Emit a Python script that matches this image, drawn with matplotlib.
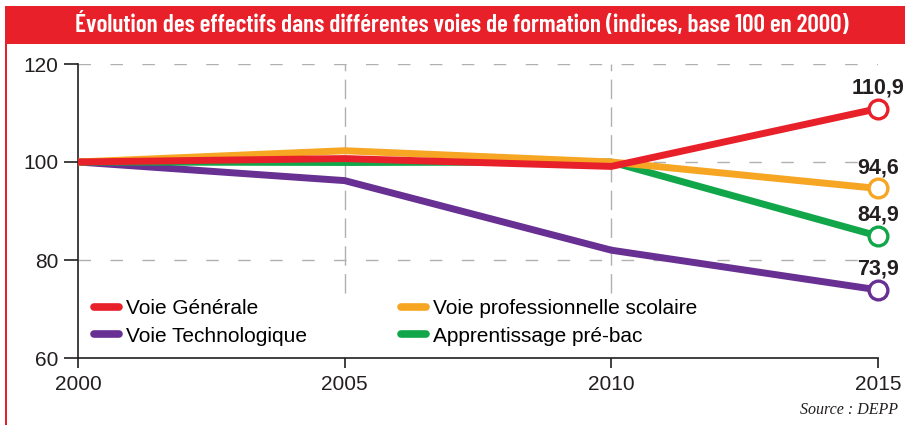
import matplotlib
matplotlib.use("Agg")
import matplotlib.pyplot as plt
from matplotlib.patches import Rectangle
from matplotlib.lines import Line2D
import matplotlib.font_manager as fm

plt.rcParams['lines.scale_dashes'] = False

years = [2000, 2005, 2010, 2015]
generale = [100, 100.7, 99.1, 110.9]
professionnelle = [100, 102.3, 100.0, 94.6]
apprentissage = [100, 99.9, 100.0, 84.9]
technologique = [100, 96.2, 82.0, 73.9]
end_labels = ["110,9", "94,6", "84,9", "73,9"]

series = [
    ("Voie Générale", generale, "#E8202A"),
    ("Voie professionnelle scolaire", professionnelle, "#F6A623"),
    ("Apprentissage pré-bac", apprentissage, "#12A64A"),
    ("Voie Technologique", technologique, "#683092"),
]
yticks = [60, 80, 100, 120]
title = "Évolution des effectifs dans différentes voies de formation (indices, base 100 en 2000)"
source = "Source : DEPP"

names = {f.name for f in fm.fontManager.ttflist}
if "Barlow Condensed" in names:
    title_family, title_size = "Barlow Condensed", 18.2
else:
    title_family, title_size = "Liberation Sans", 12.5
sans = "Liberation Sans"

W, H = 912, 425
fig = plt.figure(figsize=(W / 100, H / 100), dpi=100)

# title bar and frame
fig.patches.append(Rectangle((5 / W, 1 - 44 / H), 900 / W, 38 / H, transform=fig.transFigure,
                             facecolor="#E8202A", edgecolor="none", zorder=0))
fig.patches.append(Rectangle((5 / W, 0), 2 / W, 1 - 6 / H, transform=fig.transFigure,
                             facecolor="#E8202A", edgecolor="none", zorder=0))
fig.text(462 / W, 1 - 25 / H, title, color="white", fontsize=title_size, fontweight=600,
         family=title_family, ha="center", va="center")

ax = fig.add_axes([78 / W, 1 - 358 / H, 800 / W, 294 / H])
ax.set_xlim(2000, 2015)
ax.set_ylim(60, 120)

for y in yticks[1:]:
    ax.axhline(y, color="#b0b0b0", lw=1, dashes=(9, 14), zorder=1)
for x in years[1:-1]:
    ax.axvline(x, ymin=0.22, ymax=1, color="#b0b0b0", lw=1, dashes=(14, 6), zorder=1)

order = [3, 2, 1, 0]
handles = {}
for i in order:
    name, vals, col = series[i]
    ax.plot(years, vals, color=col, lw=5, solid_capstyle="round", zorder=3 + (3 - i))
    ax.plot(years[-1], vals[-1], marker="o", markersize=13.5, markerfacecolor="white",
            markeredgecolor=col, markeredgewidth=2.4, zorder=10, clip_on=False)
    handles[i] = Line2D([0], [0], color=col, lw=5.5, solid_capstyle="round")

for i in range(4):
    name, vals, col = series[i]
    ax.annotate(end_labels[i], (years[-1], vals[-1]), xytext=(0, 7.5), textcoords="offset points",
                ha="center", va="bottom", fontsize=15.5, fontweight="bold", family=sans,
                color="#231f20", zorder=11)

leg_order = [0, 3, 1, 2]
leg = ax.legend([handles[i] for i in leg_order], [series[i][0] for i in leg_order],
                ncol=2, loc="upper left", bbox_to_anchor=(0.015, 0.215),
                frameon=True, facecolor="white", edgecolor="none", framealpha=1,
                prop={"family": sans, "size": 15}, handlelength=1.2, handletextpad=0.35,
                columnspacing=4.5, labelspacing=0.42, borderpad=0.2, borderaxespad=0)
leg.set_zorder(2)

ax.spines["top"].set_visible(False)
ax.spines["right"].set_visible(False)
for s in ["left", "bottom"]:
    ax.spines[s].set_color("#231f20")
    ax.spines[s].set_linewidth(1.2)
ax.set_xticks(years)
ax.set_xticklabels([str(y) for y in years])
ax.set_yticks(yticks)
ax.tick_params(axis="y", length=10, width=1.2, pad=4, labelsize=15, colors="#231f20")
ax.tick_params(axis="x", length=7, width=1.2, pad=5, labelsize=15, colors="#231f20")
for lab in ax.get_xticklabels() + ax.get_yticklabels():
    lab.set_family(sans)

fig.text(898 / W, 1 - 410 / H, source, family="Liberation Serif", style="italic",
         fontsize=11.5, ha="right", va="center", color="#231f20")

fig.savefig("out.png", dpi=100)
